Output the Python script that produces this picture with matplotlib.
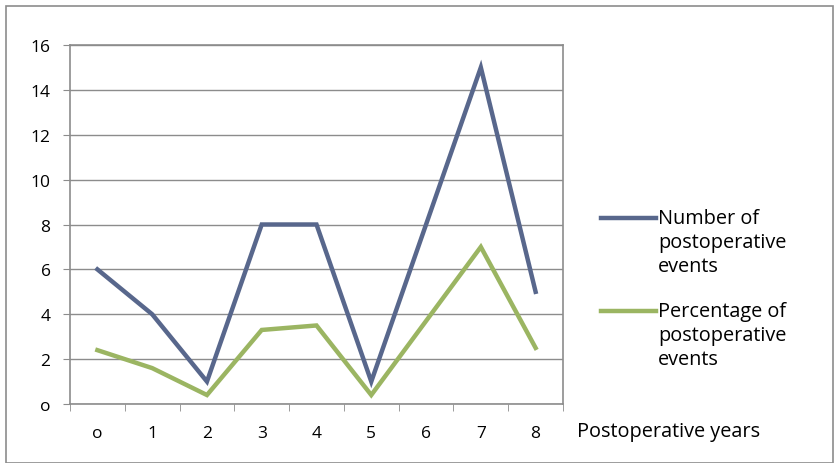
import matplotlib.pyplot as plt
from matplotlib.lines import Line2D
from matplotlib.patches import Rectangle

plt.rcParams['font.family'] = ['Open Sans', 'DejaVu Sans']

years = [0, 1, 2, 3, 4, 5, 6, 7, 8]
year_labels = ['o', '1', '2', '3', '4', '5', '6', '7', '8']
events = [6, 4, 1, 8, 8, 1, 8, 15, 5]
percent = [2.4, 1.6, 0.4, 3.3, 3.5, 0.4, 3.7, 7.0, 2.5]
series_names = ['Number of\npostoperative\nevents', 'Percentage of\npostoperative\nevents']

blue = '#58678c'
green = '#9bb562'
gray = '#8c8c8c'
fs = 12.5      # tick labels
fs_text = 14.3  # axis title and legend

fig = plt.figure(figsize=(8.35, 4.64), dpi=100)
# outer chart frame
fig.patches.append(Rectangle((6 / 835, 0), 1 - 8 / 835, 1 - 7 / 464, transform=fig.transFigure,
                             fill=False, edgecolor=gray, linewidth=1.2))

ax = fig.add_axes([70 / 835, 59 / 464, 493 / 835, 359 / 464])
ax.plot(years, events, color=blue, linewidth=3.2, solid_joinstyle='miter')
ax.plot(years, percent, color=green, linewidth=3.2, solid_joinstyle='miter')

ax.set_xlim(-0.5, 8.5)
ax.set_ylim(0, 16)
ax.set_yticks(range(0, 17, 2))
ax.set_yticklabels([('o' if v == 0 else str(v)) for v in range(0, 17, 2)])
ax.set_xticks(years)
ax.set_xticklabels(year_labels)
ax.set_xticks([i - 0.5 for i in range(10)], minor=True)
ax.tick_params(axis='x', which='major', length=0, pad=15, labelsize=fs)
ax.tick_params(axis='x', which='minor', length=5, color=gray, direction='out')
ax.tick_params(axis='y', length=5, color=gray, direction='out', labelsize=fs, pad=9)
ax.yaxis.grid(True, color=gray, linewidth=1)
ax.set_axisbelow(True)
for s in ax.spines.values():
    s.set_color(gray)
    s.set_linewidth(1.2)

fig.text(577 / 835, 1 - 432 / 464, 'Postoperative years', fontsize=fs_text, va='center', ha='left')

# legend: handle next to the first line of each label
for name, col, y in zip(series_names, [blue, green], [219, 312]):
    fig.add_artist(Line2D([601 / 835, 656 / 835], [1 - y / 464, 1 - y / 464], color=col,
                          linewidth=3.2, transform=fig.transFigure))
    fig.text(658 / 835, 1 - (y - 10) / 464, name, fontsize=fs_text, va='top', ha='left',
             linespacing=1.27)

fig.savefig('out.png', dpi=100)
